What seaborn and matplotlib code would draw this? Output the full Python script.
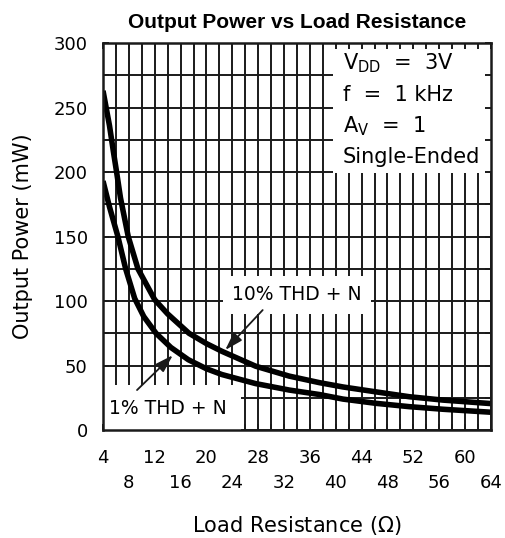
import numpy as np
import pandas as pd
import matplotlib
matplotlib.use('Agg')
import matplotlib.pyplot as plt
import seaborn as sns

# load resistance (ohm) and output power (mW)
r_thd10 = [4, 5.0, 5.6, 6.1, 6.7, 7.9, 9.4, 12, 14, 17.3, 20, 22.4, 27.6, 32.8, 37.5, 41.1, 46.2, 51.4, 56.6, 64]
p_thd10 = [263, 236, 216, 200, 180, 150, 125, 101, 90, 75, 67, 61, 49.5, 41.8, 36.7, 33.4, 29.6, 25.8, 23.2, 20.5]
r_thd1 = [4, 5, 6.3, 7.5, 8.9, 10.3, 12.2, 14.5, 17.2, 20, 22.4, 27.6, 32.8, 37.5, 41.1, 46.2, 51.4, 56.6, 64]
p_thd1 = [193, 173, 150, 125, 102, 88, 75, 64, 54.5, 47.5, 43, 36, 31, 27.5, 24, 20.7, 18.1, 16.1, 13.8]

x_ticks = list(range(4, 65, 4))
y_ticks = list(range(0, 301, 50))
conditions = ['$\\mathregular{V_{DD}}$  =  3V', 'f  =  1 kHz', '$\\mathregular{A_V}$  =  1', 'Single-Ended']

sns.set_theme(style='white')
plt.rcParams['font.family'] = ['DejaVu Sans']
plt.rcParams['mathtext.default'] = 'regular'
for key in ['text.color', 'axes.labelcolor', 'xtick.color', 'ytick.color']:
    plt.rcParams[key] = 'black'

df = pd.DataFrame({'R': r_thd10 + r_thd1,
                   'P': p_thd10 + p_thd1,
                   'curve': ['10%'] * len(r_thd10) + ['1%'] * len(r_thd1)})

fig = plt.figure(figsize=(5.05, 5.38), dpi=100)
fig.patch.set_facecolor('white')
ax = fig.add_axes([0.204, 0.2007, 0.768, 0.7193])

# grid drawn by hand so the text boxes can cover it while ticks stay on top
ax.vlines(np.arange(4, 65, 2), 0, 300, colors='k', lw=1.4, zorder=1)
ax.hlines(np.arange(0, 301, 25), 4, 64, colors='k', lw=1.4, zorder=1)

sns.lineplot(data=df, x='R', y='P', hue='curve', palette=['black', 'black'], lw=4,
             legend=False, ax=ax, zorder=4, solid_capstyle='butt',
             solid_joinstyle='round', sort=True)

ax.set_xlim(4, 64)
ax.set_ylim(0, 300)
ax.set_axisbelow(False)
for s in ax.spines.values():
    s.set_color('k')
    s.set_linewidth(1.8)
    s.set_zorder(5)

ax.set_xticks(x_ticks)
ax.set_xticklabels([str(v) if (v - 4) % 8 == 0 else '\n' + str(v) for v in x_ticks])
ax.set_xticks(np.arange(6, 64, 4), minor=True)
ax.set_yticks(y_ticks)
ax.set_yticks(np.arange(25, 300, 50), minor=True)
ax.tick_params(which='both', direction='in', length=4, width=1.4, color='k',
               top=True, right=True, bottom=True, left=True, labelsize=13)
ax.tick_params(axis='x', which='major', pad=14)
ax.tick_params(axis='y', which='major', pad=11)
for lab in ax.get_xticklabels():
    lab.set_linespacing(1.45)

ax.set_xlabel('Load Resistance ($\\Omega$)', fontsize=15, labelpad=16)
ax.set_ylabel('Output Power (mW)', fontsize=15, labelpad=15)
ax.set_title('Output Power vs Load Resistance', fontsize=15, fontweight='bold',
             family='Liberation Sans', pad=11)

# conditions box, top right
ax.add_patch(plt.Rectangle((0.593, 0.664), 0.407, 0.336, transform=ax.transAxes,
                           facecolor='white', edgecolor='none', zorder=2))
for i, line in enumerate(conditions):
    ax.text(0.619, 0.948 - i * 0.081, line, transform=ax.transAxes, fontsize=15,
            ha='left', va='center', zorder=3)

# curve labels and their pointers
ax.text(34.0, 104.7, '10% THD + N', fontsize=13.5, ha='center', va='center', zorder=3,
        bbox=dict(boxstyle='square,pad=0.5', fc='white', ec='none'))
ax.text(14.05, 17, '1% THD + N', fontsize=13.5, ha='center', va='center', zorder=3,
        clip_on=True, bbox=dict(boxstyle='square,pad=0.75', fc='white', ec='none'))
arrow = dict(arrowstyle='-|>,head_length=0.9,head_width=0.28', color='k', lw=1.3,
             shrinkA=0, shrinkB=0)
ax.annotate('', xy=(22.9, 62), xytext=(28.7, 93), arrowprops=arrow, zorder=3)
ax.annotate('', xy=(14.8, 58), xytext=(9.26, 31), arrowprops=arrow, zorder=3)

fig.savefig('out.png', dpi=100, facecolor='white')
